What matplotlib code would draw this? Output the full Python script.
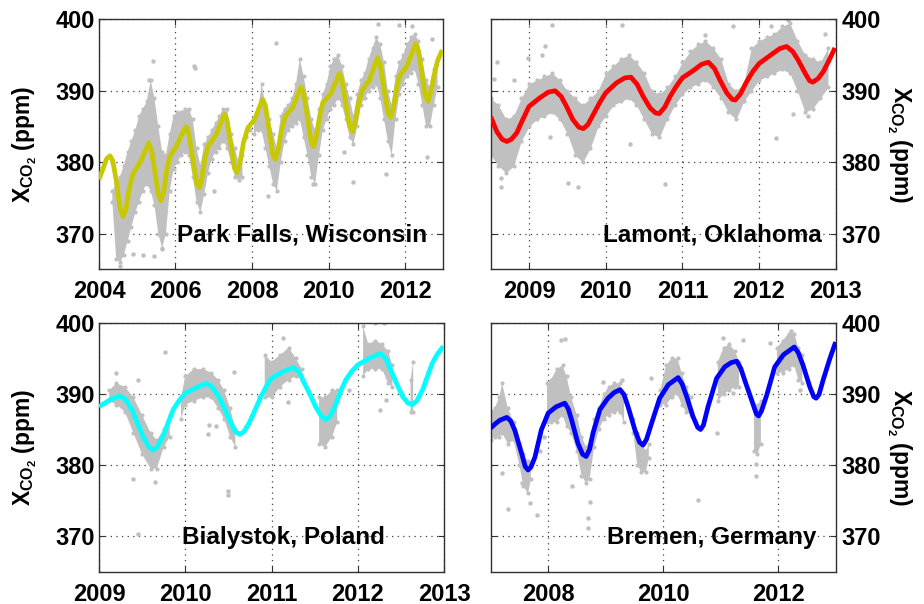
import numpy as np
import matplotlib
matplotlib.use('Agg')
import matplotlib.pyplot as plt

plt.rcParams['font.family'] = ['Liberation Sans', 'DejaVu Sans']
plt.rcParams['font.weight'] = 'bold'
plt.rcParams['mathtext.fontset'] = 'custom'
plt.rcParams['mathtext.rm'] = 'Liberation Sans:bold'
plt.rcParams['mathtext.it'] = 'Liberation Sans:bold'
plt.rcParams['mathtext.bf'] = 'Liberation Sans:bold'

nan = np.nan

# ---------------- Park Falls, Wisconsin ----------------
pf_curve_t = [2004.0, 2004.1, 2004.2, 2004.29, 2004.36, 2004.45, 2004.55, 2004.63, 2004.7, 2004.8, 2004.9, 2005.07, 2005.18,
              2005.3, 2005.37, 2005.46, 2005.55, 2005.62, 2005.69, 2005.77, 2005.85, 2006.02, 2006.14, 2006.28, 2006.35,
              2006.45, 2006.55, 2006.62, 2006.69, 2006.77, 2006.85, 2007.07, 2007.17, 2007.28, 2007.35, 2007.45, 2007.54,
              2007.61, 2007.68, 2007.78, 2007.89, 2008.07, 2008.17, 2008.28, 2008.35, 2008.45, 2008.54, 2008.61, 2008.68,
              2008.77, 2008.87, 2009.07, 2009.17, 2009.28, 2009.35, 2009.45, 2009.54, 2009.61, 2009.68, 2009.77, 2009.85,
              2010.06, 2010.17, 2010.28, 2010.35, 2010.45, 2010.55, 2010.63, 2010.7, 2010.8, 2010.89, 2011.06, 2011.17,
              2011.28, 2011.35, 2011.45, 2011.55, 2011.63, 2011.7, 2011.78, 2011.85, 2012.04, 2012.16, 2012.28, 2012.35,
              2012.44, 2012.53, 2012.6, 2012.67, 2012.75, 2012.85, 2012.97]
pf_curve_v = [377.6, 379.0, 380.5, 380.9, 380.2, 377.5, 373.6, 372.4, 373.3, 376.5, 378.5, 379.9, 381.2,
              382.7, 381.8, 378.8, 375.5, 374.6, 375.8, 378.8, 380.8, 382.2, 383.6, 385.0, 384.0,
              380.5, 377.2, 376.4, 377.8, 380.6, 382.2, 383.9, 385.3, 386.7, 385.8, 382.4, 379.2,
              378.6, 379.8, 382.8, 384.8, 386.0, 387.4, 388.8, 387.9, 384.4, 381.1, 380.4, 381.7,
              384.5, 386.4, 387.7, 389.1, 390.5, 389.6, 386.3, 383.0, 382.2, 383.6, 386.5, 388.3,
              389.6, 391.0, 392.4, 391.5, 388.2, 385.0, 384.3, 385.7, 388.6, 390.2, 391.4, 393.0,
              394.6, 393.7, 390.3, 387.0, 386.3, 387.8, 390.3, 392.0, 393.4, 395.0, 396.6, 395.6,
              392.4, 389.3, 388.5, 389.8, 392.0, 394.2, 395.7]
pf_band_t = [2004.35, 2004.45, 2004.55, 2004.65, 2004.75, 2004.85, 2004.95, 2005.05, 2005.15, 2005.25, 2005.35, 2005.45,
             2005.55, 2005.65, 2005.75, 2005.85, 2005.95, 2006.05, 2006.15, 2006.25, 2006.35, 2006.45, 2006.55, 2006.65,
             2006.75, 2006.85, 2006.95, 2007.05, 2007.15, 2007.25, 2007.35, 2007.45, 2007.55, 2007.65, 2007.75, 2007.9,
             2008.05, 2008.15, 2008.25, 2008.35, 2008.45, 2008.55, 2008.65, 2008.75, 2008.85, 2008.95, 2009.05, 2009.15,
             2009.25, 2009.35, 2009.45, 2009.55, 2009.65, 2009.75, 2009.85, 2009.95, 2010.05, 2010.15, 2010.25, 2010.35,
             2010.45, 2010.55, 2010.65, 2010.75, 2010.85, 2010.95, 2011.05, 2011.15, 2011.25, 2011.35, 2011.45, 2011.55,
             2011.65, 2011.75, 2011.85, 2011.95, 2012.05, 2012.15, 2012.25, 2012.35, 2012.45, 2012.55, 2012.65, 2012.75,
             2012.85]
pf_band_lo = [374.5, 366.5, 366.0, 367.0, 369.0, 371.0, 373.0, 374.5, 376.0, 377.0, 376.0, 374.0,
              370.0, 368.0, 370.0, 376.0, 379.0, 380.0, 381.0, 381.5, 381.0, 378.0, 374.5, 373.0,
              375.5, 378.5, 380.5, 381.5, 382.0, 383.0, 382.0, 380.0, 378.0, 377.5, 378.0, nan,
              384.0, 384.5, 384.5, 382.0, 379.5, 377.0, 376.0, 380.0, 383.0, 384.5, 385.0, 385.5,
              386.0, 383.5, 381.0, 378.0, 377.0, 381.0, 384.5, 386.0, 387.5, 388.0, 389.0, 388.0,
              386.0, 383.5, 382.5, 385.0, 388.0, 389.0, 390.0, 390.5, 391.0, 389.0, 386.0, 383.0,
              381.0, 386.0, 389.5, 391.0, 392.0, 392.5, 393.0, 391.0, 388.0, 385.0, 385.0, 388.0,
              390.5]
pf_band_hi = [376.0, 377.0, 378.0, 379.5, 381.5, 383.0, 384.5, 386.5, 387.5, 388.5, 391.5, 389.0,
              385.0, 381.5, 381.0, 384.0, 386.5, 387.0, 387.0, 387.5, 387.5, 386.0, 382.0, 379.5,
              382.5, 383.5, 384.5, 385.5, 386.5, 387.5, 387.5, 384.0, 382.0, 380.0, 381.0, nan,
              386.0, 387.0, 391.0, 388.0, 386.0, 384.0, 382.0, 386.5, 387.5, 388.0, 389.0, 391.0,
              394.5, 392.0, 389.0, 386.0, 384.5, 387.5, 389.5, 391.0, 393.5, 394.5, 395.0, 393.5,
              391.0, 389.0, 386.5, 389.5, 391.5, 392.5, 394.5, 396.0, 397.5, 396.5, 394.0, 390.0,
              388.0, 392.0, 394.0, 395.0, 396.5, 397.5, 398.0, 397.0, 394.5, 391.5, 390.5, 393.0,
              394.5]
pf_pts_t = [2004.55, 2004.9, 2005.14, 2005.42, 2005.44, 2005.3, 2005.65, 2006.48, 2006.5, 2007.0, 2007.85, 2007.95,
            2008.41, 2008.63, 2009.59, 2010.41, 2010.65, 2011.28, 2011.5, 2011.85, 2012.17, 2012.58, 2012.71]
pf_pts_v = [365.5, 367.1, 367.0, 394.2, 366.9, 391.5, 367.8, 393.4, 393.2, 376.0, 383.5, 384.5,
            375.3, 396.7, 376.9, 381.4, 377.3, 399.3, 378.3, 399.2, 399.1, 380.8, 397.3]

# ---------------- Lamont, Oklahoma ----------------
la_curve_t = [2008.5, 2008.58, 2008.65, 2008.71, 2008.77, 2008.84, 2008.92, 2009.0, 2009.14, 2009.25, 2009.34, 2009.42,
              2009.49, 2009.57, 2009.65, 2009.71, 2009.77, 2009.84, 2009.92, 2010.0, 2010.14, 2010.25, 2010.33, 2010.41,
              2010.49, 2010.58, 2010.65, 2010.7, 2010.77, 2010.84, 2010.92, 2011.0, 2011.14, 2011.25, 2011.34, 2011.42,
              2011.49, 2011.58, 2011.65, 2011.69, 2011.76, 2011.84, 2011.92, 2012.0, 2012.14, 2012.27, 2012.36, 2012.44,
              2012.51, 2012.6, 2012.66, 2012.7, 2012.77, 2012.84, 2012.92, 2012.99]
la_curve_v = [386.4, 384.3, 383.2, 382.9, 383.2, 384.1, 386.0, 387.8, 389.0, 389.8, 390.0, 389.2,
              387.8, 386.0, 384.9, 384.7, 385.3, 386.7, 388.3, 389.7, 391.1, 391.8, 391.9, 390.9,
              389.2, 387.6, 386.9, 386.8, 387.7, 389.2, 390.6, 391.8, 392.8, 393.7, 394.0, 393.1,
              391.5, 389.7, 388.8, 388.7, 389.6, 391.3, 392.7, 393.8, 394.9, 395.9, 396.2, 395.5,
              394.3, 392.5, 391.4, 391.2, 391.7, 392.7, 394.4, 396.0]
la_band_t = [2008.5, 2008.6, 2008.7, 2008.8, 2008.9, 2009.0, 2009.1, 2009.2, 2009.3, 2009.4, 2009.5, 2009.6, 2009.7,
             2009.8, 2009.9, 2010.0, 2010.1, 2010.2, 2010.3, 2010.4, 2010.5, 2010.6, 2010.7, 2010.8, 2010.9, 2011.0,
             2011.1, 2011.2, 2011.3, 2011.4, 2011.5, 2011.6, 2011.7, 2011.8, 2011.9, 2012.0, 2012.1, 2012.2, 2012.3,
             2012.4, 2012.5, 2012.6, 2012.7, 2012.8, 2012.9]
la_band_lo = [381.0, 379.5, 378.5, 379.5, 383.0, 385.0, 386.0, 386.5, 387.0, 386.0, 384.0, 381.0, 380.0,
              382.0, 385.0, 386.5, 388.0, 388.5, 389.0, 388.0, 386.0, 384.0, 383.5, 386.0, 388.0, 389.5,
              390.5, 391.0, 391.5, 390.5, 389.0, 387.0, 386.0, 388.5, 390.0, 391.5, 392.0, 392.5, 393.0,
              392.5, 390.0, 387.0, 387.5, 389.0, 390.5]
la_band_hi = [389.0, 388.0, 386.0, 386.5, 389.0, 391.0, 391.5, 392.0, 392.5, 391.5, 390.0, 389.0, 388.0,
              389.0, 390.0, 392.5, 393.5, 394.5, 395.0, 394.0, 392.5, 390.0, 389.5, 390.5, 392.0, 394.0,
              395.5, 396.5, 397.0, 396.0, 394.5, 391.0, 390.0, 391.0, 396.0, 397.0, 397.5, 398.0, 399.0,
              399.5, 397.0, 395.0, 394.5, 394.0, 396.0]
la_pts_t = [2008.58, 2008.54, 2008.8, 2008.64, 2008.64, 2009.3, 2009.21, 2009.17, 2008.99, 2009.51, 2009.64, 2010.21,
            2010.32, 2010.77, 2011.29, 2011.66, 2012.16, 2012.22, 2012.38, 2012.45, 2012.86, 2012.64, 2009.27]
la_pts_v = [394.0, 391.6, 391.5, 377.8, 376.6, 399.2, 396.2, 395.0, 394.6, 377.1, 376.6, 399.2,
            382.5, 376.9, 397.8, 399.1, 399.1, 383.4, 399.9, 386.7, 398.0, 386.5, 383.5]

# ---------------- Bialystok, Poland ----------------
bi_curve_t = [2009.0, 2009.13, 2009.24, 2009.31, 2009.38, 2009.45, 2009.51, 2009.58, 2009.63, 2009.68, 2009.74, 2009.8,
              2009.86, 2009.93, 2010.0, 2010.13, 2010.24, 2010.31, 2010.38, 2010.45, 2010.51, 2010.58, 2010.63, 2010.68,
              2010.74, 2010.81, 2010.88, 2010.94, 2011.0, 2011.13, 2011.25, 2011.32, 2011.38, 2011.45, 2011.51, 2011.58,
              2011.63, 2011.68, 2011.75, 2011.8, 2011.86, 2011.93, 2012.0, 2012.13, 2012.26, 2012.32, 2012.38, 2012.45,
              2012.52, 2012.58, 2012.63, 2012.68, 2012.75, 2012.8, 2012.86, 2012.92, 2012.99]
bi_curve_v = [388.2, 389.2, 389.7, 389.2, 387.8, 385.8, 384.0, 382.5, 382.1, 382.6, 384.0, 385.9,
              387.8, 389.1, 390.1, 390.9, 391.5, 391.0, 389.8, 388.1, 386.4, 384.7, 384.3, 384.7,
              385.9, 387.8, 389.7, 391.1, 392.2, 393.1, 393.7, 393.1, 391.5, 389.8, 388.2, 386.8,
              386.4, 386.9, 388.7, 390.4, 392.0, 393.2, 394.1, 395.0, 395.7, 395.0, 393.4, 391.4,
              389.6, 388.7, 388.5, 389.0, 390.6, 392.3, 394.3, 395.6, 396.7]
bi_band_t = [2009.12, 2009.2, 2009.3, 2009.4, 2009.5, 2009.6, 2009.67, 2009.75, 2009.82, 2009.88,
             2009.95, 2010.0, 2010.1, 2010.2, 2010.3, 2010.38, 2010.45, 2010.52, 2010.58, 2010.7,
             2010.92, 2011.0, 2011.1, 2011.2, 2011.28, 2011.35, 2011.45,
             2011.55, 2011.62, 2011.7, 2011.76, 2011.9,
             2012.06, 2012.12, 2012.2, 2012.28, 2012.35, 2012.4, 2012.5,
             2012.61, 2012.64]
bi_band_lo = [389.0, 388.5, 387.5, 384.5, 381.5, 379.5, 379.5, 382.5, 384.0, nan,
              386.5, 388.5, 389.0, 389.5, 389.5, 388.0, 386.5, 384.0, 382.5, nan,
              389.5, 389.5, 391.0, 392.0, 392.5, 392.0, nan,
              383.0, 382.5, 384.0, 386.0, nan,
              392.5, 393.5, 393.5, 393.5, 391.5, 391.0, nan,
              387.5, 387.5]
bi_band_hi = [390.5, 391.5, 391.0, 389.5, 387.0, 384.5, 383.5, 385.0, 387.0, nan,
              389.5, 392.5, 393.5, 393.5, 393.0, 392.0, 390.5, 388.0, 385.0, nan,
              395.5, 394.5, 395.5, 396.5, 395.0, 393.5, nan,
              389.5, 389.5, 390.5, 390.5, nan,
              399.5, 397.0, 397.5, 397.0, 396.0, 394.0, nan,
              392.0, 394.5]
bi_pts_t = [2009.76, 2009.4, 2009.65, 2009.45, 2009.45, 2010.49, 2010.49, 2010.57, 2010.27, 2010.26, 2010.36,
            2011.13, 2011.19, 2011.9, 2012.25, 2012.32, 2012.2, 2012.3, 2010.85, 2009.2]
bi_pts_v = [395.9, 378.1, 377.6, 391.9, 370.3, 376.4, 375.8, 393.1, 385.7, 384.3, 385.5,
            397.8, 388.9, 390.6, 387.8, 389.2, 400.0, 400.0, 389.5, 393.0]

# ---------------- Bremen, Germany ----------------
br_curve_t = [2007.0, 2007.08, 2007.16, 2007.28, 2007.35, 2007.42, 2007.54, 2007.6, 2007.65, 2007.7, 2007.77, 2007.88,
              2008.0, 2008.14, 2008.29, 2008.35, 2008.41, 2008.52, 2008.6, 2008.66, 2008.72, 2008.78, 2008.9, 2009.04,
              2009.15, 2009.25, 2009.32, 2009.39, 2009.51, 2009.59, 2009.65, 2009.71, 2009.8, 2009.94, 2010.09, 2010.26,
              2010.33, 2010.41, 2010.52, 2010.6, 2010.65, 2010.7, 2010.78, 2010.93, 2011.07, 2011.18, 2011.28, 2011.35,
              2011.42, 2011.54, 2011.62, 2011.66, 2011.71, 2011.8, 2011.94, 2012.09, 2012.28, 2012.35, 2012.43, 2012.55,
              2012.62, 2012.66, 2012.71, 2012.78, 2012.9, 2013.0]
br_curve_v = [385.2, 385.8, 386.3, 386.7, 386.2, 384.9, 381.6, 379.8, 379.3, 379.7, 381.1, 384.9,
              387.3, 388.2, 388.7, 387.9, 386.3, 383.0, 381.5, 381.2, 382.2, 384.5, 387.8, 389.4,
              390.2, 390.6, 389.9, 388.2, 384.9, 383.2, 382.8, 383.6, 385.9, 389.4, 391.3, 392.3,
              391.4, 389.6, 386.8, 385.3, 385.0, 385.6, 388.2, 392.2, 393.8, 394.4, 394.6, 393.6,
              391.9, 389.1, 387.2, 386.9, 387.6, 389.8, 393.8, 395.5, 396.6, 395.8, 394.1, 391.0,
              389.6, 389.4, 389.9, 391.9, 395.0, 397.3]
br_band_t = [2007.0, 2007.07, 2007.15, 2007.2, 2007.3, 2007.4, 2007.5, 2007.57, 2007.65, 2007.7, 2007.8,
             2007.98, 2008.05, 2008.15, 2008.25, 2008.32, 2008.4, 2008.5, 2008.58, 2008.66, 2008.72, 2008.8, 2008.88,
             2008.97, 2009.05, 2009.15, 2009.25, 2009.32, 2009.4,
             2009.48, 2009.55, 2009.62, 2009.7, 2009.75, 2009.85,
             2009.95, 2010.05, 2010.15, 2010.25, 2010.32, 2010.4, 2010.48, 2010.7,
             2010.95, 2011.05, 2011.15, 2011.25, 2011.32, 2011.45,
             2011.58, 2011.64, 2011.7, 2011.85,
             2011.98, 2012.08, 2012.18, 2012.28, 2012.35, 2012.42]
br_band_lo = [383.5, 384.0, 384.0, 384.5, 383.0, 383.5, 380.0, 377.0, 376.0, 378.0, nan,
              386.0, 386.0, 386.0, 387.0, 385.5, 384.5, 382.0, 378.5, 377.5, 378.0, 382.5, 385.0,
              386.5, 387.0, 387.5, 387.5, 386.0, nan,
              384.5, 380.0, 379.0, 379.0, 381.0, nan,
              388.5, 388.5, 389.5, 390.0, 388.5, 387.5, 387.0, nan,
              389.0, 390.0, 390.5, 391.0, 391.0, nan,
              382.0, 381.5, 383.0, nan,
              393.0, 393.0, 393.5, 394.0, 392.0, 391.5]
br_band_hi = [387.5, 388.0, 389.5, 391.5, 388.0, 386.0, 383.0, 381.5, 380.5, 380.0, nan,
              391.5, 392.0, 393.5, 394.0, 392.5, 389.5, 387.0, 384.0, 382.5, 383.5, 386.5, 388.0,
              390.0, 391.0, 391.5, 391.5, 389.0, nan,
              386.5, 384.5, 383.0, 382.0, 383.0, nan,
              390.5, 394.0, 395.0, 395.0, 393.0, 391.0, 389.5, nan,
              394.5, 396.5, 397.0, 396.0, 394.5, nan,
              388.0, 388.5, 389.0, nan,
              396.5, 397.5, 398.5, 398.5, 396.5, 395.5]
br_pts_t = [2007.3, 2007.54, 2007.68, 2007.8, 2007.19, 2008.29, 2008.23, 2008.41, 2008.72, 2008.69, 2008.69, 2008.96,
            2009.29, 2009.78, 2010.61, 2011.04, 2011.39, 2011.86, 2011.62, 2011.62, 2012.38, 2010.93, 2011.22,
            2012.23, 2007.85, 2007.92]
br_pts_v = [373.8, 377.5, 374.7, 373.0, 378.9, 397.7, 397.6, 377.0, 374.8, 372.5, 371.1, 391.7,
            391.9, 392.3, 375.1, 397.9, 397.6, 397.1, 380.2, 378.4, 390.5, 384.5, 390.1,
            398.9, 382.0, 384.0]

panels = [
    dict(pos=[0.1071, 0.554, 0.3727, 0.414], xlim=(2004, 2013), xticks=[2004, 2006, 2008, 2010, 2012],
         ct=pf_curve_t, cv=pf_curve_v, bt=pf_band_t, blo=pf_band_lo, bhi=pf_band_hi, pt=pf_pts_t, pv=pf_pts_v,
         color='#c8c800', name='Park Falls, Wisconsin', txy=(0.591, 0.137), side='left'),
    dict(pos=[0.531, 0.554, 0.3734, 0.414], xlim=(2008.5, 2013), xticks=[2009, 2010, 2011, 2012, 2013],
         ct=la_curve_t, cv=la_curve_v, bt=la_band_t, blo=la_band_lo, bhi=la_band_hi, pt=la_pts_t, pv=la_pts_v,
         color='#ff0000', name='Lamont, Oklahoma', txy=(0.643, 0.137), side='right'),
    dict(pos=[0.1071, 0.0535, 0.3737, 0.412], xlim=(2009, 2013), xticks=[2009, 2010, 2011, 2012, 2013],
         ct=bi_curve_t, cv=bi_curve_v, bt=bi_band_t, blo=bi_band_lo, bhi=bi_band_hi, pt=bi_pts_t, pv=bi_pts_v,
         color='#00ffff', name='Bialystok, Poland', txy=(0.534, 0.138), side='left'),
    dict(pos=[0.531, 0.0535, 0.3734, 0.412], xlim=(2007, 2013), xticks=[2008, 2010, 2012],
         ct=br_curve_t, cv=br_curve_v, bt=br_band_t, blo=br_band_lo, bhi=br_band_hi, pt=br_pts_t, pv=br_pts_v,
         color='#0000ff', name='Bremen, Germany', txy=(0.641, 0.138), side='right'),
]

yticks = [370, 380, 390, 400]
gray = '#c0c0c0'
ylabel = r'$X_{CO_2}$ (ppm)'

fig = plt.figure(figsize=(9.24, 6.04), dpi=100)
for p in panels:
    ax = fig.add_axes(p['pos'])
    ax.set_axisbelow(True)
    ax.fill_between(p['bt'], p['blo'], p['bhi'], color=gray, lw=0, zorder=1)
    ax.plot(p['bt'], p['blo'], 'o', color=gray, ms=3, mew=0, zorder=1)
    ax.plot(p['bt'], p['bhi'], 'o', color=gray, ms=3, mew=0, zorder=1)
    ax.plot(p['pt'], p['pv'], 'o', color=gray, ms=3.2, mew=0, zorder=1)
    ax.plot(p['ct'], p['cv'], '-', color=p['color'], lw=3.4, solid_joinstyle='round',
            solid_capstyle='butt', zorder=3)
    ax.set_xlim(*p['xlim'])
    ax.set_ylim(365, 400)
    ax.set_xticks(p['xticks'])
    ax.set_xticklabels([str(v) for v in p['xticks']])
    ax.set_yticks(yticks)
    ax.grid(True, linestyle=(0, (1, 3.5)), color='#404040', lw=0.9)
    for s in ax.spines.values():
        s.set_color('#303030')
        s.set_linewidth(1.0)
    ax.tick_params(axis='both', direction='in', length=4, width=0.8, labelsize=17,
                   top=True, bottom=True, left=True, right=True, colors='#303030', labelcolor='black')
    ax.tick_params(axis='x', pad=8)
    ax.text(p['txy'][0], p['txy'][1], p['name'], transform=ax.transAxes, ha='center', va='center',
            fontsize=17.5, fontweight='bold', zorder=5)
    if p['side'] == 'left':
        ax.tick_params(axis='y', labelleft=True, labelright=False, pad=3)
        ax.set_ylabel(ylabel, fontsize=16.5, fontweight='bold')
        ax.yaxis.set_label_coords(-0.175, 0.5)
    else:
        ax.tick_params(axis='y', labelleft=False, labelright=True, pad=4.5)
        ax.yaxis.set_label_position('right')
        ax.set_ylabel(ylabel, fontsize=16.5, fontweight='bold', rotation=-90, va='bottom')
        ax.yaxis.set_label_coords(1.142, 0.5)

fig.savefig('out.png', dpi=100)
